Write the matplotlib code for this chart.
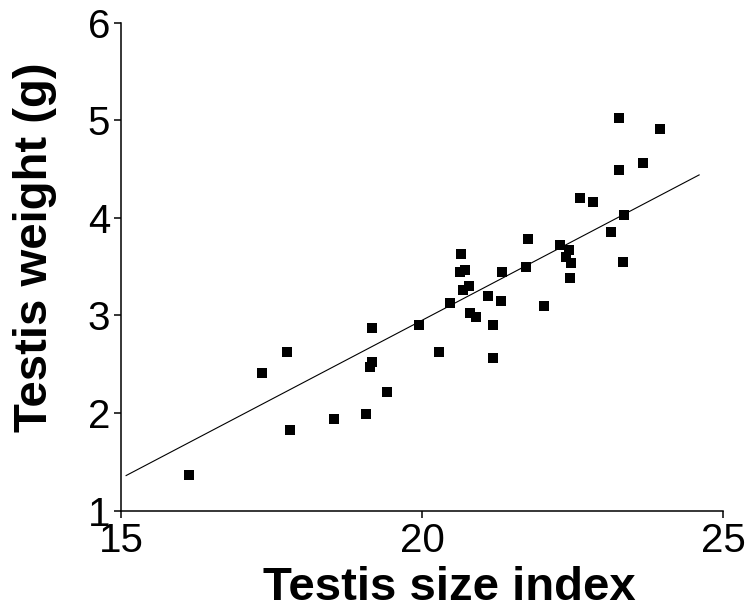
import numpy as np
import matplotlib
matplotlib.use("Agg")
import matplotlib.pyplot as plt

plt.rcParams['font.family'] = ['Liberation Sans', 'DejaVu Sans']

# testis size index vs testis weight (g)
size_index = [16.13, 17.33, 17.75, 17.80, 18.53, 19.07, 19.16, 19.13, 19.17, 19.41,
              19.94, 20.28, 20.46, 20.65, 20.63, 20.71, 20.68, 20.77, 20.80, 20.90,
              21.10, 21.17, 21.17, 21.30, 21.33, 21.73, 21.75, 22.02, 22.29, 22.43,
              22.38, 22.47, 22.45, 22.62, 22.83, 23.14, 23.27, 23.27, 23.36, 23.34,
              23.66, 23.95]
weight = [1.37, 2.41, 2.63, 1.83, 1.94, 1.99, 2.87, 2.47, 2.52, 2.22,
          2.90, 2.63, 3.13, 3.63, 3.45, 3.47, 3.26, 3.30, 3.03, 2.98,
          3.20, 2.90, 2.56, 3.15, 3.45, 3.50, 3.78, 3.10, 3.72, 3.67,
          3.60, 3.54, 3.38, 4.20, 4.16, 3.86, 5.02, 4.49, 4.03, 3.55,
          4.56, 4.91]

# fitted line
slope = 0.3236
intercept = -3.52
fit_x = [15.08, 24.6]

xticks = [15, 20, 25]
yticks = [1, 2, 3, 4, 5, 6]

fig = plt.figure(figsize=(7.51, 6.11), dpi=100)
ax = fig.add_axes([0.1615, 0.1642, 0.8015, 0.7986])

ax.scatter(size_index, weight, marker='s', s=44, color='black', linewidths=0, zorder=3)
fx = np.array(fit_x)
ax.plot(fx, slope * fx + intercept, color='black', lw=0.8)

ax.set_xlim(15, 25)
ax.set_ylim(1, 6)
ax.set_xticks(xticks)
ax.set_yticks(yticks)
ax.tick_params(labelsize=29, length=5, width=1.1, pad=3)
for s in ['top', 'right']:
    ax.spines[s].set_visible(False)
for s in ['left', 'bottom']:
    ax.spines[s].set_linewidth(1.1)

fig.text(0.598, 0.038, 'Testis size index', fontsize=34, fontweight='bold',
         ha='center', va='center')
fig.text(0.046, 0.596, 'Testis weight (g)', fontsize=34, fontweight='bold',
         ha='center', va='center', rotation=90)

fig.savefig('out.png', dpi=100)
